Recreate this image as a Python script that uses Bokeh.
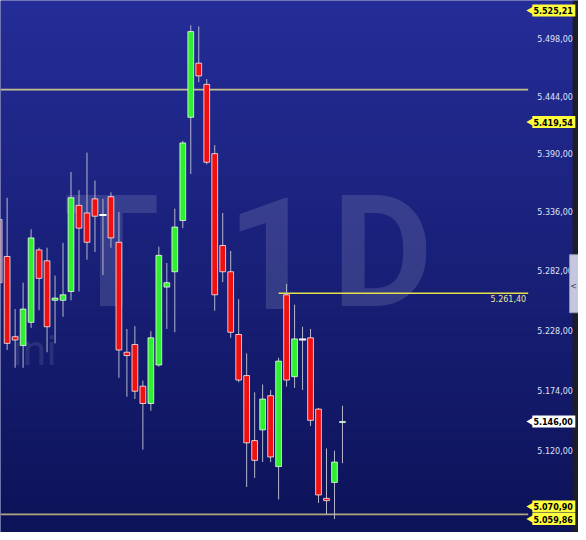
import numpy as np
from bokeh.plotting import figure
from bokeh.core.properties import value
from bokeh.embed import file_html
from bokeh.resources import INLINE

# ---- daily candles ----
opens = [5329, 5295, 5222, 5214, 5235, 5301, 5291, 5255, 5255, 5263,
         5342, 5335, 5348, 5333, 5350, 5308, 5208, 5215, 5177.5, 5162,
         5196.5, 5267, 5281, 5328, 5424, 5475, 5455, 5390, 5305, 5281,
         5224, 5187, 5129, 5138.5, 5169, 5106, 5260, 5186, 5219.5, 5221,
         5157, 5078, 5092, 5145]
highs = [5340, 5349, 5247, 5271, 5320, 5303, 5303, 5277.5, 5307.5, 5373,
         5356, 5391, 5365, 5348, 5354, 5336, 5229, 5231.5, 5182.5, 5227,
         5304, 5289, 5339, 5402, 5511, 5510, 5460, 5398, 5335, 5300,
         5256, 5207, 5172, 5179, 5174, 5203, 5270, 5251, 5231, 5229,
         5158, 5122, 5120, 5160]
lows = [5259, 5210, 5194, 5194, 5230, 5246, 5208, 5216, 5240, 5255,
        5263, 5292, 5299, 5278, 5303, 5185, 5168, 5166, 5121, 5155.5,
        5195, 5229, 5226, 5321, 5371, 5457, 5380, 5245.5, 5271.5, 5221,
        5181, 5088, 5096, 5110, 5110, 5077, 5177, 5176, 5174, 5142,
        5074, 5064, 5059.86, 5109]
closes = [5271, 5216, 5219, 5247, 5312, 5275, 5231, 5257, 5260, 5349,
          5321, 5308, 5332, 5333, 5312, 5210, 5205, 5173, 5162, 5221,
          5296, 5271, 5322, 5400, 5505, 5463, 5382, 5260, 5281, 5226,
          5183, 5127, 5111.5, 5166, 5114.5, 5200, 5183, 5220, 5219.5, 5147,
          5081, 5076, 5110, 5146]

# ---- price axis ----
tick_values = [5498, 5444, 5390, 5336, 5282, 5228, 5174, 5120]
tick_labels = ["5.498,00", "5.444,00", "5.390,00", "5.336,00",
               "5.282,00", "5.228,00", "5.174,00", "5.120,00"]

# ---- price tags ----
tag_values = [5525.21, 5419.54, 5146.00, 5070.90, 5059.86]
tag_labels = ["5.525,21", "5.419,54", "5.146,00", "5.070,90", "5.059,86"]
tag_colors = ["#ffff3c", "#ffff3c", "#ffffff", "#ffff3c", "#ffff3c"]

# ---- horizontal levels ----
level_values = [5450.0, 5261.40, 5064.0]
level_label = "5.261,40"

# ---- watermark ----
wm_chars = ["T", "1", "D"]

Y_MIN, Y_MAX = 5048.1, 5534.7
X_MIN, X_MAX = 0.17, 72.56
X_AXIS_TEXT = 71.86
X_LINE_END = 66.26
X_STRIP = 71.82

idx = list(range(len(opens)))
up, dn, doji = "#2ff02f", "#f01010", "#ffffff"
colors = [doji if o == c else (up if c > o else dn) for o, c in zip(opens, closes)]
body_top = [max(o, c) for o, c in zip(opens, closes)]
body_bot = [min(o, c) for o, c in zip(opens, closes)]

p = figure(width=578, height=532, x_range=(X_MIN, X_MAX), y_range=(Y_MIN, Y_MAX),
           y_axis_type="log", x_axis_location=None, y_axis_location=None,
           toolbar_location=None, output_backend="svg",
           min_border=0, border_fill_color="#1c1c28", outline_line_color=None,
           background_fill_color="#1b2280")
p.grid.visible = False

# vertical gradient background
n = 256
t = np.linspace(0.0, 1.0, n)[:, None]
top_c = np.array([37, 45, 152], dtype=float)
bot_c = np.array([13, 19, 88], dtype=float)
cols = bot_c + (top_c - bot_c) * t
img = np.empty((n, 1), dtype=np.uint32)
view = img.view(dtype=np.uint8).reshape((n, 1, 4))
view[:, 0, 0] = cols[:, 0].astype(np.uint8)
view[:, 0, 1] = cols[:, 1].astype(np.uint8)
view[:, 0, 2] = cols[:, 2].astype(np.uint8)
view[:, 0, 3] = 255
p.image_rgba(image=[img], x=X_MIN, y=Y_MIN, dw=X_MAX - X_MIN, dh=Y_MAX - Y_MIN, level="image")

# watermark
wm = p.text(x=[14.07, 34.1, 48.0], y=[5298.0] * 3, text=wm_chars, text_align="center",
            text_baseline="alphabetic", text_font=value("Roboto"),
            text_font_style="bold", text_font_size="155px",
            text_color="white", text_alpha=0.13)
wm.level = "underlay"
wm2 = p.text(x=[7.21], y=[5209.9], text=["ini"], text_align="right",
             text_baseline="alphabetic", text_font=value("Roboto"),
             text_font_size="43px", text_color="white", text_alpha=0.1)
wm2.level = "underlay"

# horizontal levels
p.segment(x0=[X_MIN, 35, X_MIN], y0=level_values, x1=[X_LINE_END] * 3, y1=level_values,
          line_color=["#c4bf8a", "#e6e048", "#b0a87c"], line_width=[1.6, 1.3, 1.8])
p.text(x=[66.0], y=[level_values[1]], text=[level_label], text_align="right",
       text_baseline="top", y_offset=2, text_font=value("DejaVu Sans"),
       text_font_size="8px", text_color="#e8e8a0")

# candles
p.segment(x0=idx, y0=lows, x1=idx, y1=highs, line_color="#b4b6ce", line_width=1)
p.vbar(x=idx, width=0.72, top=body_top, bottom=body_bot, fill_color=colors,
       line_color="white", line_alpha=0.75, line_width=1)
dj_x = [i for i in idx if opens[i] == closes[i]]
dj_y = [closes[i] for i in dj_x]
p.rect(x=dj_x, y=dj_y, width=0.9, height=2, height_units="screen",
       fill_color="white", line_color=None)

# right window edge
p.quad(left=[X_STRIP], right=[X_MAX + 1], bottom=[Y_MIN], top=[Y_MAX],
       fill_color="#1c1c2a", line_color=None)

# axis labels
p.text(x=[X_AXIS_TEXT] * len(tick_values), y=tick_values, text=tick_labels,
       text_align="right", text_baseline="middle", text_font=value("DejaVu Sans"),
       text_font_size="8px", text_color="#dfe2f5")

# side tab
p.quad(left=[71.45], right=[X_MAX + 1], bottom=[5243.7], top=[5296.6],
       fill_color="#c6c6de", line_color="#9a9ab8", line_width=1)
p.text(x=[71.95], y=[5268.0], text=["<"], text_align="center", text_baseline="middle",
       text_font=value("DejaVu Sans"), text_font_size="8px", text_color="#404060")

# price tags
p.rect(x=[69.47] * len(tag_values), y=tag_values, width=43, height=12,
       width_units="screen", height_units="screen", fill_color=tag_colors, line_color=None)
p.scatter(x=[66.9] * len(tag_values), y=tag_values, marker="triangle", size=12,
          angle=np.pi / 2, fill_color=tag_colors, line_color=None)
p.text(x=[X_AXIS_TEXT] * len(tag_values), y=tag_values, text=tag_labels,
       text_align="right", text_baseline="middle", text_font=value("DejaVu Sans"),
       text_font_style="bold", text_font_size="8px", text_color="#000000")

open("out.html", "w").write(file_html(p, INLINE))
